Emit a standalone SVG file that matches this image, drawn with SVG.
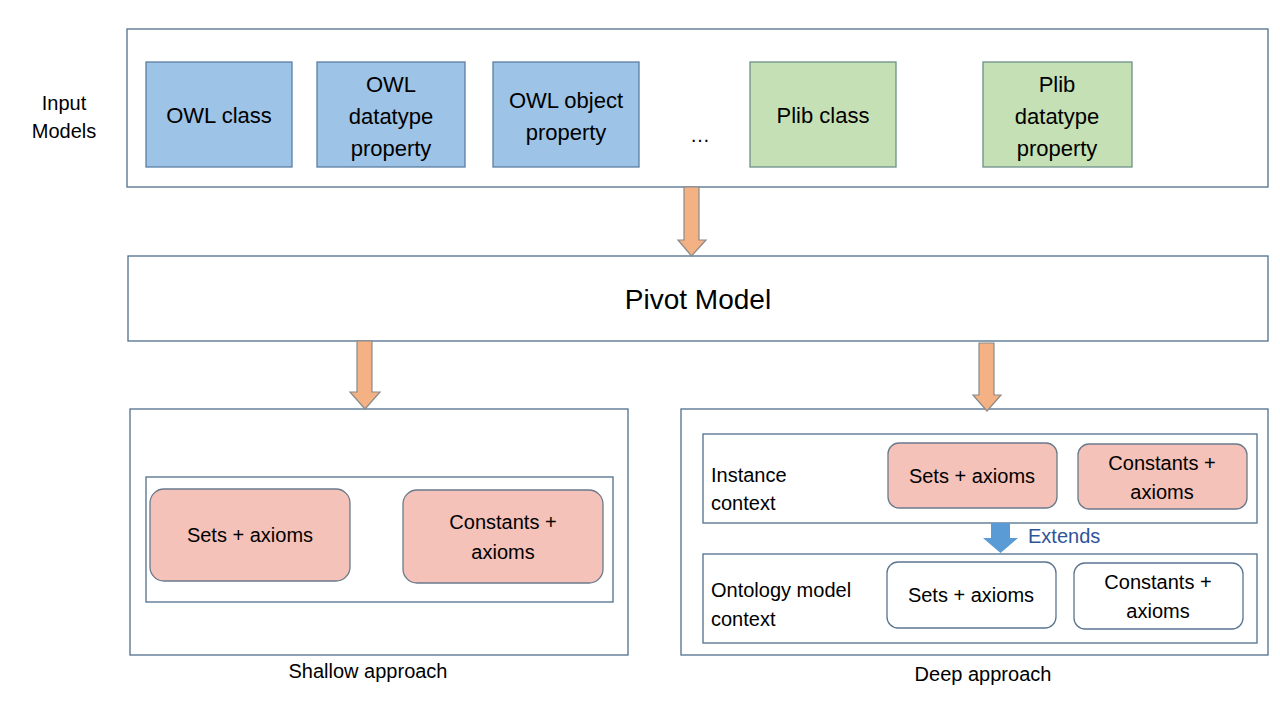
<svg xmlns="http://www.w3.org/2000/svg" width="1280" height="720" viewBox="0 0 1280 720">
<style>
text{font-family:"Liberation Sans",Arial,sans-serif;fill:#000;text-anchor:middle}
.frame{fill:#fff;stroke:#4f6f8c;stroke-width:1.3}
.blue{fill:#9dc3e6;stroke:#5a7fa3;stroke-width:1.3}
.green{fill:#c5e0b4;stroke:#6d8f8a;stroke-width:1.3}
.pink{fill:#f4c2b8;stroke:#6a7a8c;stroke-width:1.3}
.white{fill:#fff;stroke:#5a7590;stroke-width:1.3}
.arrow{fill:#f4b183;stroke:#8a8a8a;stroke-width:1.2}
.big{font-size:22px}
.mid{font-size:20px}
.lbl{font-size:20px}
.left{text-anchor:start}
</style>
<g id="input-models">
<rect class="frame" x="127" y="29" width="1141" height="158"/>
<text class="lbl" x="64" y="110">Input</text>
<text class="lbl" x="64" y="138">Models</text>
</g>
<g id="owl-class"><rect class="blue" x="146" y="62" width="146" height="105"/><text class="big" x="219" y="123">OWL class</text></g>
<g id="owl-datatype"><rect class="blue" x="317" y="62" width="148" height="105"/><text class="big" x="391" y="92">OWL</text><text class="big" x="391" y="124">datatype</text><text class="big" x="391" y="156">property</text></g>
<g id="owl-object"><rect class="blue" x="493" y="62" width="146" height="105"/><text class="big" x="566" y="108">OWL object</text><text class="big" x="566" y="140">property</text></g>
<g id="ellipsis"><text class="mid" x="700" y="142">…</text></g>
<g id="plib-class"><rect class="green" x="750" y="62" width="146" height="105"/><text class="big" x="823" y="123">Plib class</text></g>
<g id="plib-datatype"><rect class="green" x="983" y="62" width="149" height="105"/><text class="big" x="1057" y="92">Plib</text><text class="big" x="1057" y="124">datatype</text><text class="big" x="1057" y="156">property</text></g>
<g id="pivot-model"><rect class="frame" x="128" y="256" width="1140" height="85"/><text x="698" y="309" style="font-size:28px">Pivot Model</text></g>
<g id="shallow">
<rect class="frame" x="130" y="409" width="498" height="246"/>
<rect class="frame" x="146" y="477" width="467" height="125"/>
<text class="lbl" x="368" y="678">Shallow approach</text>
</g>
<g id="shallow-sets"><rect class="pink" x="150" y="489" width="200" height="92" rx="14"/><text class="mid" x="250" y="542">Sets + axioms</text></g>
<g id="shallow-constants"><rect class="pink" x="403" y="490" width="200" height="93" rx="14"/><text class="mid" x="503" y="529">Constants +</text><text class="mid" x="503" y="559">axioms</text></g>
<g id="deep">
<rect class="frame" x="681" y="409" width="587" height="246"/>
<text class="lbl" x="983" y="681">Deep approach</text>
</g>
<g id="instance-context">
<rect class="frame" x="703" y="434" width="554" height="89"/>
<text class="lbl left" x="711" y="482">Instance</text>
<text class="lbl left" x="711" y="510">context</text>
</g>
<g id="instance-sets"><rect class="pink" x="888" y="443" width="169" height="65" rx="11"/><text class="mid" x="972" y="483">Sets + axioms</text></g>
<g id="instance-constants"><rect class="pink" x="1078" y="444" width="169" height="65" rx="11"/><text class="mid" x="1162" y="470">Constants +</text><text class="mid" x="1162" y="499">axioms</text></g>
<g id="ontology-context">
<rect class="frame" x="703" y="554" width="554" height="89"/>
<text class="lbl left" x="711" y="597">Ontology model</text>
<text class="lbl left" x="711" y="626">context</text>
</g>
<g id="ontology-sets"><rect class="white" x="887" y="562" width="169" height="66" rx="11"/><text class="mid" x="971" y="602">Sets + axioms</text></g>
<g id="ontology-constants"><rect class="white" x="1074" y="563" width="169" height="66" rx="11"/><text class="mid" x="1158" y="589">Constants +</text><text class="mid" x="1158" y="618">axioms</text></g>
<g id="connectors">
<polygon class="arrow" points="684,187 699,187 699,240 706,240 691.5,256 678,240 684,240"/>
<polygon class="arrow" points="357,341 372,341 372,392 380,392 365,409 350,392 357,392"/>
<polygon class="arrow" points="979,343 994,343 994,395 1001,395 987,411 973,395 979,395"/>
<polygon fill="#5b9bd5" points="991,523 1010,523 1010,538 1018,538 1000.5,553 983,538 991,538"/>
<text x="1028" y="543" class="lbl left" style="fill:#2f5597">Extends</text>
</g>
</svg>
